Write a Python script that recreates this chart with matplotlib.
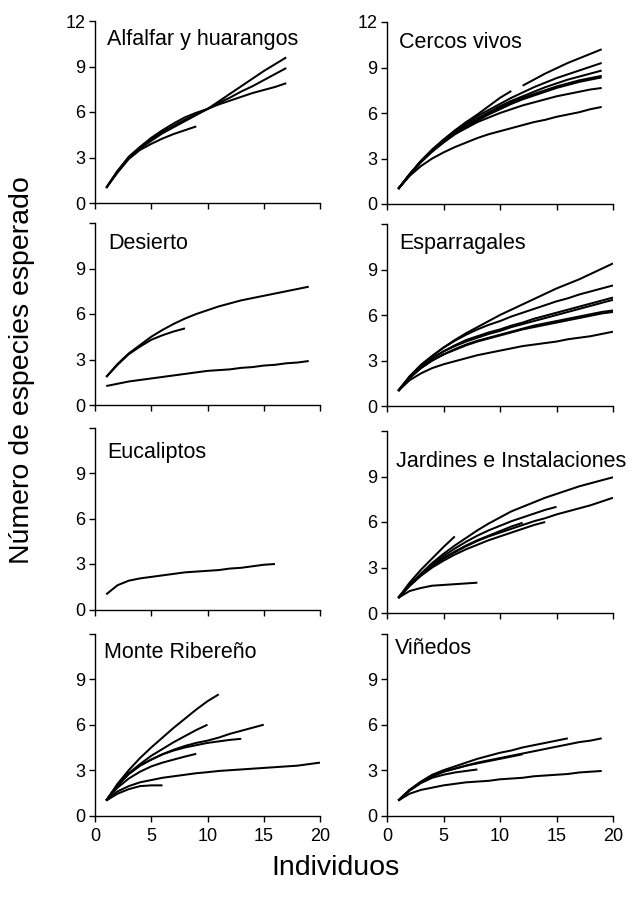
import matplotlib
matplotlib.use("Agg")
import matplotlib.pyplot as plt

plt.rcParams['font.family'] = ['Liberation Sans', 'DejaVu Sans']

# ---------------- data ----------------
xticks = [0, 5, 10, 15, 20]
xtick_labels = ["0", "5", "10", "15", "20"]
yticks_top = [0, 3, 6, 9, 12]
ytick_labels_top = ["0", "3", "6", "9", "12"]
yticks_other = [0, 3, 6, 9, 12]
ytick_labels_other = ["0", "3", "6", "9", ""]

titles = ["Alfalfar y huarangos", "Cercos vivos", "Desierto", "Esparragales",
          "Eucaliptos", "Jardines e Instalaciones", "Monte Ribereño", "Viñedos"]

# Alfalfar y huarangos
alf_a = [1, 2.1, 3.0, 3.6, 4.1, 4.6, 5.0, 5.4, 5.8, 6.2, 6.7, 7.2, 7.7, 8.2, 8.7, 9.15, 9.6]
alf_b = [1, 2.1, 3.0, 3.65, 4.2, 4.7, 5.1, 5.5, 5.85, 6.2, 6.6, 6.95, 7.35, 7.7, 8.1, 8.5, 8.9]
alf_c = [1, 2.1, 3.05, 3.7, 4.3, 4.8, 5.25, 5.65, 5.95, 6.2, 6.5, 6.75, 7.0, 7.25, 7.45, 7.65, 7.9]
alf_d = [1, 2.0, 2.9, 3.5, 3.9, 4.25, 4.55, 4.8, 5.05]

# Cercos vivos
cer_top_a = [1, 1.95, 2.85, 3.6, 4.25, 4.85, 5.4, 5.9, 6.45, 7.0, 7.45]
cer_top_b = [7.8, 8.2, 8.6, 8.95, 9.3, 9.6, 9.9, 10.2]
cer_2 = [1, 1.95, 2.8, 3.55, 4.2, 4.8, 5.3, 5.8, 6.2, 6.6, 7.0, 7.35, 7.7, 8.0, 8.3, 8.55, 8.8, 9.05, 9.3]
cer_3 = [1, 1.95, 2.8, 3.5, 4.15, 4.7, 5.2, 5.65, 6.05, 6.45, 6.8, 7.1, 7.4, 7.7, 7.95, 8.2, 8.4, 8.6, 8.8]
cer_4 = [1, 1.95, 2.8, 3.5, 4.1, 4.65, 5.15, 5.6, 6.0, 6.35, 6.7, 7.0, 7.25, 7.5, 7.75, 7.95, 8.15, 8.3, 8.45]
cer_5 = [1, 1.9, 2.75, 3.45, 4.05, 4.6, 5.1, 5.5, 5.9, 6.25, 6.6, 6.9, 7.15, 7.4, 7.65, 7.85, 8.05, 8.2, 8.35]
cer_6 = [1, 1.95, 2.8, 3.5, 4.1, 4.6, 5.0, 5.4, 5.7, 6.0, 6.25, 6.5, 6.7, 6.9, 7.1, 7.25, 7.4, 7.55, 7.65]
cer_7 = [1, 1.85, 2.5, 3.0, 3.4, 3.75, 4.05, 4.35, 4.6, 4.8, 5.0, 5.2, 5.4, 5.55, 5.75, 5.9, 6.05, 6.25, 6.4]

# Desierto
des_up = [1.85, 2.7, 3.4, 3.95, 4.5, 4.95, 5.35, 5.7, 6.0, 6.25, 6.5, 6.7, 6.9, 7.05, 7.2, 7.35, 7.5, 7.65, 7.8]
des_short = [1.85, 2.65, 3.35, 3.85, 4.3, 4.6, 4.85, 5.05]
des_low = [1.25, 1.4, 1.55, 1.65, 1.75, 1.85, 1.95, 2.05, 2.15, 2.25, 2.3, 2.35, 2.45, 2.5, 2.6, 2.65, 2.75, 2.8, 2.9]

# Esparragales
esp_1 = [1, 1.95, 2.7, 3.3, 3.85, 4.35, 4.8, 5.2, 5.6, 6.0, 6.35, 6.7, 7.05, 7.4, 7.75, 8.05, 8.35, 8.7, 9.05, 9.4]
esp_2 = [1, 1.95, 2.7, 3.3, 3.85, 4.3, 4.7, 5.05, 5.35, 5.6, 5.9, 6.15, 6.4, 6.65, 6.9, 7.1, 7.35, 7.55, 7.75, 7.95]
esp_3 = [1, 1.9, 2.6, 3.15, 3.6, 4.0, 4.35, 4.6, 4.85, 5.05, 5.3, 5.5, 5.75, 5.95, 6.15, 6.35, 6.55, 6.75, 6.95, 7.15]
esp_4 = [1, 1.9, 2.6, 3.15, 3.6, 3.95, 4.25, 4.5, 4.75, 4.95, 5.2, 5.4, 5.6, 5.8, 6.0, 6.2, 6.4, 6.6, 6.8, 7.0]
esp_5 = [1, 1.85, 2.5, 3.0, 3.4, 3.75, 4.05, 4.3, 4.5, 4.7, 4.9, 5.1, 5.3, 5.45, 5.6, 5.75, 5.9, 6.05, 6.2, 6.3]
esp_6 = [1, 1.85, 2.5, 3.0, 3.4, 3.7, 4.0, 4.25, 4.45, 4.65, 4.85, 5.05, 5.2, 5.35, 5.5, 5.65, 5.8, 5.95, 6.1, 6.2]
esp_7 = [1, 1.7, 2.15, 2.5, 2.75, 2.95, 3.15, 3.35, 3.5, 3.65, 3.8, 3.95, 4.05, 4.15, 4.25, 4.4, 4.5, 4.6, 4.75, 4.9]

# Eucaliptos
euc_1 = [1.0, 1.6, 1.9, 2.05, 2.15, 2.25, 2.35, 2.45, 2.5, 2.55, 2.6, 2.7, 2.75, 2.85, 2.95, 3.0]

# Jardines e Instalaciones
jar_1 = [1, 1.85, 2.6, 3.3, 3.9, 4.45, 4.95, 5.45, 5.9, 6.3, 6.7, 7.0, 7.3, 7.6, 7.85, 8.1, 8.35, 8.55, 8.75, 8.95]
jar_2 = [1, 1.8, 2.5, 3.1, 3.6, 4.0, 4.4, 4.75, 5.05, 5.3, 5.55, 5.8, 6.05, 6.25, 6.5, 6.7, 6.9, 7.1, 7.35, 7.6]
jar_3 = [1, 1.85, 2.55, 3.2, 3.75, 4.25, 4.7, 5.1, 5.45, 5.75, 6.05, 6.3, 6.55, 6.8, 7.0]
jar_4 = [1, 1.8, 2.5, 3.1, 3.6, 4.05, 4.45, 4.8, 5.1, 5.4, 5.7, 5.95]
jar_5 = [1, 1.8, 2.45, 3.0, 3.45, 3.85, 4.2, 4.5, 4.8, 5.05, 5.3, 5.55, 5.8, 6.0]
jar_6 = [1, 2.0, 2.85, 3.6, 4.35, 5.05]
jar_7 = [1, 1.45, 1.65, 1.8, 1.85, 1.9, 1.95, 2.0]

# Monte Ribereño
mon_1 = [1, 2.1, 3.0, 3.8, 4.5, 5.15, 5.8, 6.4, 7.0, 7.55, 8.0]
mon_2 = [1, 2.0, 2.8, 3.4, 3.95, 4.4, 4.85, 5.25, 5.65, 6.0]
mon_3 = [1, 2.0, 2.75, 3.3, 3.7, 4.05, 4.35, 4.6, 4.8, 4.95, 5.15, 5.4, 5.6, 5.8, 6.0]
mon_4 = [1, 2.0, 2.75, 3.3, 3.7, 4.05, 4.3, 4.5, 4.65, 4.8, 4.9, 5.0, 5.07]
mon_5 = [1, 1.85, 2.45, 2.9, 3.25, 3.5, 3.7, 3.9, 4.08]
mon_6 = [1, 1.6, 1.95, 2.2, 2.35, 2.5, 2.6, 2.7, 2.8, 2.87, 2.95, 3.0, 3.05, 3.1, 3.15, 3.2, 3.25, 3.3, 3.4, 3.5]
mon_7 = [1, 1.45, 1.75, 1.95, 2.0, 2.0]

# Viñedos
vin_1 = [1, 1.7, 2.25, 2.7, 3.0, 3.25, 3.5, 3.75, 3.95, 4.15, 4.3, 4.5, 4.65, 4.8, 4.95, 5.1]
vin_2 = [1, 1.7, 2.2, 2.6, 2.9, 3.1, 3.3, 3.5, 3.65, 3.8, 3.95, 4.1, 4.25, 4.4, 4.55, 4.7, 4.85, 4.95, 5.1]
vin_3 = [1, 1.7, 2.2, 2.6, 2.9, 3.1, 3.3, 3.45, 3.6, 3.75, 3.9, 4.05]
vin_4 = [1, 1.65, 2.15, 2.5, 2.7, 2.85, 2.95, 3.05]
vin_5 = [1, 1.45, 1.7, 1.85, 2.0, 2.1, 2.2, 2.25, 2.3, 2.4, 2.45, 2.5, 2.6, 2.65, 2.7, 2.75, 2.85, 2.9, 2.95]

# each curve: (values, first x)
panels = [
    [(alf_a, 1), (alf_b, 1), (alf_c, 1), (alf_d, 1)],
    [(cer_top_a, 1), (cer_top_b, 12), (cer_2, 1), (cer_3, 1), (cer_4, 1), (cer_5, 1), (cer_6, 1), (cer_7, 1)],
    [(des_up, 1), (des_short, 1), (des_low, 1)],
    [(esp_1, 1), (esp_2, 1), (esp_3, 1), (esp_4, 1), (esp_5, 1), (esp_6, 1), (esp_7, 1)],
    [(euc_1, 1)],
    [(jar_1, 1), (jar_2, 1), (jar_3, 1), (jar_4, 1), (jar_5, 1), (jar_6, 1), (jar_7, 1)],
    [(mon_1, 1), (mon_2, 1), (mon_3, 1), (mon_4, 1), (mon_5, 1), (mon_6, 1), (mon_7, 1)],
    [(vin_1, 1), (vin_2, 1), (vin_3, 1), (vin_4, 1), (vin_5, 1)],
]

# ---------------- layout ----------------
W, H = 635, 899
fig = plt.figure(figsize=(W / 100, H / 100), dpi=100)

col_left = [95, 387]
col_right = [320, 613]
row_bottom = [[203, 204], [405, 406], [609.5, 613], [815.7, 815.7]]
ax_h = 182
title_pos = [(0.053, 0.90), (0.053, 0.885), (0.058, 0.89), (0.053, 0.895),
             (0.053, 0.86), (0.04, 0.83), (0.04, 0.895), (0.035, 0.92)]

for i in range(8):
    r, c = divmod(i, 2)
    left = col_left[c]
    width = col_right[c] - col_left[c]
    bottom = row_bottom[r][c]
    ax = fig.add_axes([left / W, 1 - bottom / H, width / W, ax_h / H])
    for vals, x0 in panels[i]:
        xs = list(range(x0, x0 + len(vals)))
        ax.plot(xs, vals, color='black', lw=1.45, solid_capstyle='butt')
    ax.set_xlim(0, 20)
    ax.set_ylim(0, 12)
    ax.set_xticks(xticks)
    if r == 3:
        ax.set_xticklabels(xtick_labels)
    else:
        ax.set_xticklabels([])
    if r == 0:
        ax.set_yticks(yticks_top)
        ax.set_yticklabels(ytick_labels_top)
    else:
        ax.set_yticks(yticks_other)
        ax.set_yticklabels(ytick_labels_other)
    for s in ['top', 'right']:
        ax.spines[s].set_visible(False)
    for s in ['left', 'bottom']:
        ax.spines[s].set_linewidth(1.0)
    ax.tick_params(direction='out', length=4, width=1.0, labelsize=13)
    ax.tick_params(axis='x', pad=5)
    ax.tick_params(axis='y', pad=3)
    ax.text(title_pos[i][0], title_pos[i][1], titles[i], transform=ax.transAxes,
            fontsize=15.5, ha='left', va='center')
    ax.patch.set_visible(False)

fig.text(22 / W, 1 - 370 / H, "Número de especies esperado", rotation=90,
         ha='center', va='center', fontsize=20.5)
fig.text(336 / W, 1 - 868 / H, "Individuos", ha='center', va='center', fontsize=20.5)

fig.savefig("out.png", dpi=100)
